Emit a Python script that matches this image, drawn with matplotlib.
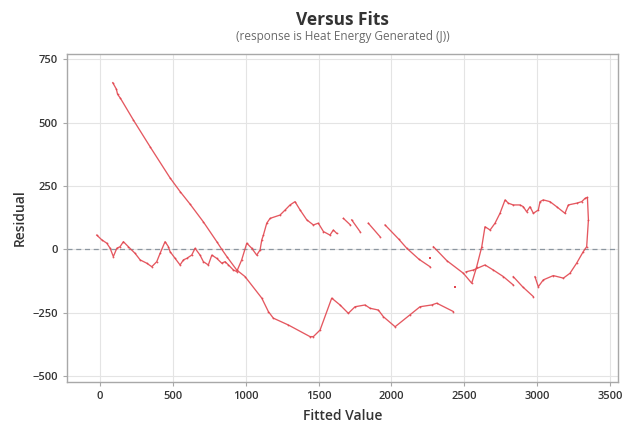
import numpy as np
import matplotlib
matplotlib.use("Agg")
import matplotlib.pyplot as plt

plt.rcParams['font.family'] = ['Open Sans', 'DejaVu Sans']

# Long descending curve
fit_a = [87, 112, 120, 140, 229, 343, 480, 549, 618, 709, 801, 835, 870, 938, 995, 1110,
         1155, 1189, 1292, 1441, 1464, 1510, 1590, 1647, 1704, 1750, 1819, 1853, 1910,
         1944, 2025, 2127, 2196, 2276, 2311, 2425]
res_a = [658, 632, 612, 596, 510, 405, 282, 228, 178, 108, 30, 0, -29, -82, -108, -193,
         -246, -272, -299, -345, -345, -319, -193, -220, -253, -227, -220, -233, -240,
         -266, -306, -259, -227, -220, -213, -246]

# Zig-zag curve near zero
fit_b = [-23, 12, 46, 69, 91, 115, 137, 160, 194, 240, 275, 320, 355, 389, 412, 446,
         469, 480, 515, 549, 572, 595, 629, 652, 686, 709, 743, 767, 801, 835, 858, 881,
         915, 938, 972, 1007, 1041, 1075, 1098, 1110, 1121, 1144, 1167, 1235, 1270, 1304,
         1338, 1373, 1419, 1464, 1498, 1533, 1578, 1601, 1624]
res_b = [56, 37, 24, 4, -29, 4, 10, 30, 10, -16, -42, -55, -69, -49, -16, 30,
         10, -9, -36, -62, -42, -36, -23, 4, -23, -49, -62, -23, -36, -55, -49, -62,
         -82, -88, -42, 24, 4, -23, -3, 37, 56, 103, 122, 135, 155, 175,
         188, 155, 116, 96, 103, 70, 56, 76, 63]

# Short descending segments (NaN separates runs)
fit_c = [1670, 1718, np.nan, 1727, 1784, np.nan, 1841, 1921, np.nan,
         1956, 2050, 2105, 2190, 2265]
res_c = [122, 96, np.nan, 116, 70, np.nan, 103, 50, np.nan,
         96, 40, 4, -40, -69]

# Right loop
fit_d = [2288, 2380, 2494, 2551, 2585, 2620, 2642, 2677, 2711, 2745, 2780, 2802, 2836,
         2883, 2905, 2928, 2951, 2974, 3008, 3020, 3042, 3088, 3134, 3191, 3214, 3271,
         3306, 3329, 3345, 3352, 3340, 3317, 3271, 3225, 3180, 3111, 3042, 3008, 2985]
res_d = [10, -45, -95, -134, -69, 10, 89, 76, 103, 142, 195, 182, 175,
         175, 168, 148, 168, 142, 155, 188, 195, 188, 168, 142, 175, 182,
         188, 201, 205, 116, 10, -9, -55, -95, -114, -104, -121, -148, -108]

# Lower right segments
fit_e = [2512, 2562, 2642, 2699, 2768, 2836, np.nan, 2836, 2900, 2974]
res_e = [-89, -82, -62, -82, -108, -141, np.nan, -108, -148, -187]

# Isolated points
fit_f = [2265, 2436]
res_f = [-35, -148]

x_ticks = [0, 500, 1000, 1500, 2000, 2500, 3000, 3500]
y_ticks = [-500, -250, 0, 250, 500, 750]

red = '#e2464f'
fig = plt.figure(figsize=(6.33, 4.25), dpi=100)
ax = fig.add_axes([0.1054, 0.1019, 0.8709, 0.7710])

for fx, ry in [(fit_a, res_a), (fit_b, res_b), (fit_c, res_c), (fit_d, res_d), (fit_e, res_e)]:
    ax.plot(fx, ry, color=red, lw=0.95, marker='o', ms=1.3, mew=0, alpha=0.9)
ax.plot(fit_f, res_f, ls='none', color=red, marker='s', ms=2.0, mew=0)

ax.axhline(0, color='#8c96a0', lw=0.9, ls=(0, (4, 3)), zorder=1)

ax.set_xlim(-229, 3555)
ax.set_ylim(-523, 771)
ax.set_xticks(x_ticks)
ax.set_yticks(y_ticks)
ax.grid(True, color='#e4e4e4', lw=0.8)
ax.set_axisbelow(True)
for s in ax.spines.values():
    s.set_color('#a8a8a8')
    s.set_linewidth(1.0)
ax.tick_params(axis='both', colors='#a8a8a8', labelcolor='#333333', length=3,
               labelsize=8)
for lab in ax.get_xticklabels() + ax.get_yticklabels():
    lab.set_fontweight('semibold')

ax.set_xlabel('Fitted Value', fontsize=10, fontweight='semibold', color='#333333', labelpad=5)
ax.set_ylabel('Residual', fontsize=10, fontweight='semibold', color='#333333', labelpad=4)

fig.text(0.541, 0.952, 'Versus Fits', ha='center', va='center', fontsize=12.5,
         fontweight='bold', color='#333333')
fig.text(0.541, 0.913, '(response is Heat Energy Generated (J))', ha='center',
         va='center', fontsize=8.5, color='#6a6a6a')

fig.savefig('out.png', dpi=100)
